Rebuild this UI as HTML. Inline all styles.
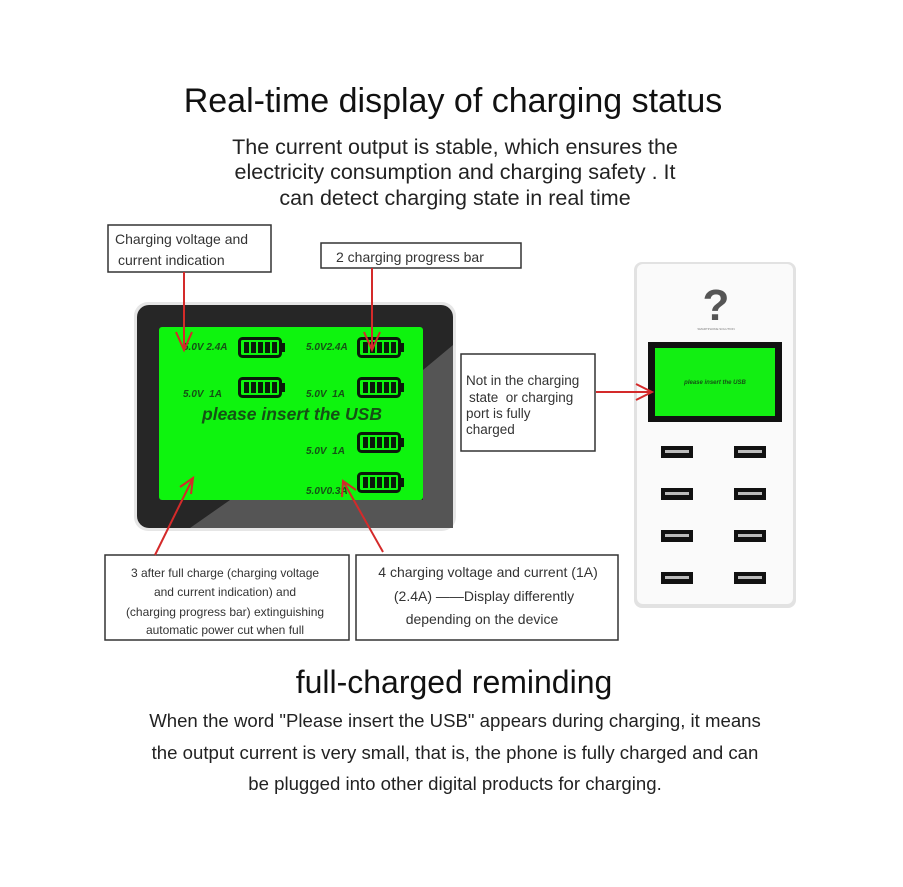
<!DOCTYPE html>
<html><head><meta charset="utf-8"><style>
body{margin:0;background:#fff;}
svg{display:block;}
text{font-family:"Liberation Sans",sans-serif;}
</style></head><body>
<svg width="903" height="887" viewBox="0 0 903 887" xmlns="http://www.w3.org/2000/svg">
<defs>
<g id="bat">
<rect x="1.5" y="1.5" width="41" height="18" rx="3" fill="none" stroke="#0a1a0a" stroke-width="3"/>
<rect x="43" y="6" width="4" height="9" fill="#0a1a0a"/>
<rect x="6" y="5" width="5" height="11" fill="#0a1a0a"/>
<rect x="13" y="5" width="5" height="11" fill="#0a1a0a"/>
<rect x="20" y="5" width="5" height="11" fill="#0a1a0a"/>
<rect x="27" y="5" width="5" height="11" fill="#0a1a0a"/>
<rect x="34" y="5" width="5" height="11" fill="#0a1a0a"/>
</g>
<g id="usb">
<rect x="0" y="0" width="32" height="12" fill="#111"/>
<rect x="4" y="4" width="24" height="3" fill="#bbb"/>
</g>
</defs>
<text x="453" y="112" font-size="34" text-anchor="middle" fill="#111">Real-time display of charging status</text>
<text x="455" y="154" font-size="21.5" text-anchor="middle" fill="#222">The current output is stable, which ensures the</text>
<text x="455" y="179" font-size="21.5" text-anchor="middle" fill="#222">electricity consumption and charging safety . It</text>
<text x="455" y="205" font-size="21.5" text-anchor="middle" fill="#222">can detect charging state in real time</text>

<!-- main device -->
<rect x="134" y="302" width="322" height="229" rx="14" fill="#e6e6e6"/>
<rect x="137" y="305" width="316" height="223" rx="12" fill="#262626"/>
<polygon points="453,345 453,528 190,528 230,500 423,500 423,370" fill="#555"/>
<rect x="159" y="327" width="264" height="173" rx="3" fill="#0ef40e"/>
<g font-size="10" font-weight="bold" font-style="italic" fill="#155015">
<text x="183" y="350">5.0V 2.4A</text>
<text x="306" y="350">5.0V2.4A</text>
<text x="183" y="397">5.0V&#160;&#160;1A</text>
<text x="306" y="397">5.0V&#160;&#160;1A</text>
<text x="306" y="454">5.0V&#160;&#160;1A</text>
<text x="306" y="494">5.0V0.3A</text>
</g>
<use href="#bat" x="238" y="337"/>
<use href="#bat" x="357" y="337"/>
<use href="#bat" x="238" y="377"/>
<use href="#bat" x="357" y="377"/>
<use href="#bat" x="357" y="432"/>
<use href="#bat" x="357" y="472"/>
<text x="292" y="420" font-size="17.5" font-weight="bold" font-style="italic" text-anchor="middle" fill="#155015">please insert the USB</text>

<!-- right device -->
<rect x="634" y="262" width="162" height="346" rx="8" fill="#e2e2e2"/>
<rect x="637" y="264" width="156" height="340" rx="6" fill="#fafafa"/>
<text x="716" y="320" font-size="44" font-weight="bold" text-anchor="middle" fill="#555" font-family="Liberation Serif,serif">?</text>
<text x="716" y="330" font-size="3" text-anchor="middle" fill="#777">SMARTPHONE SOLUTION</text>
<rect x="648" y="342" width="134" height="80" fill="#111"/>
<rect x="655" y="348" width="120" height="68" fill="#12ef12"/>
<text x="715" y="384" font-size="6" font-weight="bold" font-style="italic" text-anchor="middle" fill="#155015">please insert the USB</text>
<use href="#usb" x="661" y="446"/><use href="#usb" x="734" y="446"/>
<use href="#usb" x="661" y="488"/><use href="#usb" x="734" y="488"/>
<use href="#usb" x="661" y="530"/><use href="#usb" x="734" y="530"/>
<use href="#usb" x="661" y="572"/><use href="#usb" x="734" y="572"/>

<!-- boxes -->
<g fill="#fff" stroke="#333" stroke-width="1.5">
<rect x="108" y="225" width="163" height="47"/>
<rect x="321" y="243" width="200" height="25"/>
<rect x="461" y="354" width="134" height="97"/>
<rect x="105" y="555" width="244" height="85"/>
<rect x="356" y="555" width="262" height="85"/>
</g>
<g fill="#333" font-size="14">
<text x="115" y="244">Charging voltage and</text>
<text x="118" y="265">current indication</text>
<text x="336" y="262">2 charging progress bar</text>
<text x="466" y="385" font-size="13.5">Not in the charging</text>
<text x="469" y="402" font-size="13.5">state&#160; or charging</text>
<text x="466" y="418" font-size="13.5">port is fully</text>
<text x="466" y="434" font-size="13.5">charged</text>
</g>
<g fill="#333" font-size="12" text-anchor="middle">
<text x="225" y="577">3 after full charge (charging voltage</text>
<text x="225" y="596">and current indication) and</text>
<text x="225" y="616">(charging progress bar) extinguishing</text>
<text x="225" y="634">automatic power cut when full</text>
</g>
<g fill="#333" font-size="14" text-anchor="middle">
<text x="488" y="577">4 charging voltage and current (1A)</text>
<text x="484" y="601">(2.4A) ——Display differently</text>
<text x="482" y="624">depending on the device</text>
</g>

<!-- arrows -->
<g stroke="#d42a2a" stroke-width="2" fill="none">
<line x1="184" y1="272" x2="184" y2="350"/><polyline points="176,332 184,350 192,332"/>
<line x1="372" y1="268" x2="372" y2="350"/><polyline points="364,332 372,350 380,332"/>
<line x1="596" y1="392" x2="652" y2="392"/><polyline points="636,384 652,392 636,400"/>
<line x1="155" y1="555" x2="193" y2="478"/><polyline points="180,487 193,478 191,494"/>
<line x1="383" y1="552" x2="343" y2="481"/><polyline points="342,497 343,481 356,490"/>
</g>

<text x="454" y="693" font-size="32" text-anchor="middle" fill="#111">full-charged reminding</text>
<g font-size="18.6" text-anchor="middle" fill="#222">
<text x="455" y="727">When the word "Please insert the USB" appears during charging, it means</text>
<text x="455" y="759">the output current is very small, that is, the phone is fully charged and can</text>
<text x="455" y="790">be plugged into other digital products for charging.</text>
</g>
</svg>
</body></html>
